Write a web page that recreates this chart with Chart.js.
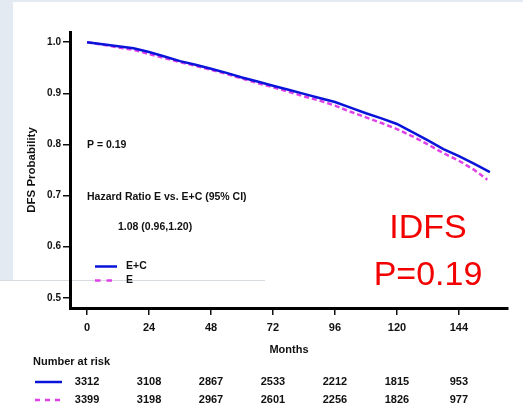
<!DOCTYPE html>
<html>
<head>
<meta charset="utf-8">
<script src="https://cdn.jsdelivr.net/npm/chart.js@4/dist/chart.umd.min.js"></script>
<style>
  body { margin: 0; background: #fff; }
  canvas { display: block; }
</style>
</head>
<body>
<canvas id="kmChart" width="523" height="418"></canvas>
<script>
// survival curves
const monthsEC = [0, 6, 12, 18, 24, 30, 36, 42, 48, 54, 60, 66, 72, 78, 84, 90, 96, 102, 108, 114, 120, 126, 132, 138, 144, 150, 156];
const survEC = [1.000, 0.996, 0.992, 0.988, 0.981, 0.972, 0.963, 0.956, 0.948, 0.940, 0.931, 0.923, 0.915, 0.907, 0.899, 0.891, 0.883, 0.872, 0.861, 0.851, 0.840, 0.824, 0.808, 0.791, 0.777, 0.762, 0.746];
const monthsE = [0, 6, 12, 18, 24, 30, 36, 42, 48, 54, 60, 66, 72, 78, 84, 90, 96, 102, 108, 114, 120, 126, 132, 138, 144, 150, 155];
const survE = [1.000, 0.995, 0.990, 0.985, 0.977, 0.969, 0.961, 0.954, 0.946, 0.938, 0.929, 0.920, 0.912, 0.903, 0.894, 0.886, 0.876, 0.864, 0.853, 0.842, 0.830, 0.816, 0.800, 0.783, 0.768, 0.750, 0.731];

const xTicks = [0, 24, 48, 72, 96, 120, 144];
const yTicks = [0.5, 0.6, 0.7, 0.8, 0.9, 1.0];
const riskEC = [3312, 3108, 2867, 2533, 2212, 1815, 953];
const riskE = [3399, 3198, 2967, 2601, 2256, 1826, 977];

const BLUE = '#0a14d8';
const PINK = '#e040e8';
const FONT = '"Liberation Sans", Arial, sans-serif';

function toPoints(xs, ys) {
    return xs.map((x, i) => ({ x: x, y: ys[i] }));
}

const backdrop = {
    id: 'backdrop',
    beforeDraw(chart) {
        const ctx = chart.ctx;
        ctx.save();
        ctx.fillStyle = '#fff';
        ctx.fillRect(0, 0, chart.width, chart.height);
        ctx.fillStyle = '#e3eaf1';
        ctx.fillRect(0, 0, chart.width, 2);
        ctx.fillRect(0, 0, 13, 280);
        ctx.strokeStyle = '#d6dbe0';
        ctx.lineWidth = 1;
        ctx.beginPath();
        ctx.moveTo(0, 280.5);
        ctx.lineTo(265, 280.5);
        ctx.stroke();
        ctx.restore();
    }
};

function sampleLine(ctx, x1, x2, y, color, dash) {
    ctx.save();
    ctx.strokeStyle = color;
    ctx.lineWidth = 2.5;
    ctx.setLineDash(dash);
    ctx.beginPath();
    ctx.moveTo(x1, y);
    ctx.lineTo(x2, y);
    ctx.stroke();
    ctx.restore();
}

const notes = {
    id: 'notes',
    afterDraw(chart) {
        const ctx = chart.ctx;
        const xs = chart.scales.x;
        ctx.save();
        ctx.fillStyle = '#111';
        ctx.textBaseline = 'middle';
        ctx.textAlign = 'left';
        ctx.font = 'bold 10.5px ' + FONT;
        ctx.fillText('P = 0.19', 87, 145);
        ctx.fillText('Hazard Ratio E vs. E+C (95% CI)', 87, 197);
        ctx.fillText('1.08 (0.96,1.20)', 118, 227);

        // legend
        sampleLine(ctx, 95, 117, 266.5, BLUE, []);
        sampleLine(ctx, 95, 117, 280.5, PINK, [5.5, 6]);
        ctx.fillText('E+C', 126, 266.5);
        ctx.fillText('E', 126, 280.5);

        // number at risk
        ctx.font = 'bold 11px ' + FONT;
        ctx.fillText('Number at risk', 33, 362);
        sampleLine(ctx, 35, 62, 382, BLUE, []);
        sampleLine(ctx, 35, 62, 400, PINK, [5, 5]);
        ctx.textAlign = 'center';
        xTicks.forEach((t, i) => {
            const px = xs.getPixelForValue(t);
            ctx.fillText(String(riskEC[i]), px, 382);
            ctx.fillText(String(riskE[i]), px, 400);
        });

        // big red label
        ctx.fillStyle = '#f30000';
        ctx.font = '34px ' + FONT;
        ctx.textBaseline = 'alphabetic';
        ctx.fillText('IDFS', 428, 238);
        ctx.fillText('P=0.19', 428, 285);
        ctx.restore();
    }
};

const ctx = document.getElementById('kmChart').getContext('2d');

new Chart(ctx, {
    type: 'line',
    data: {
        datasets: [
            {
                label: 'E+C',
                data: toPoints(monthsEC, survEC),
                borderColor: BLUE,
                borderWidth: 2.5,
                pointRadius: 0,
                tension: 0,
                order: 1
            },
            {
                label: 'E',
                data: toPoints(monthsE, survE),
                borderColor: PINK,
                borderWidth: 2.5,
                borderDash: [5, 3],
                pointRadius: 0,
                tension: 0,
                order: 2
            }
        ]
    },
    options: {
        responsive: false,
        devicePixelRatio: 1,
        animation: false,
        layout: { padding: { top: 32, right: 15, left: 0, bottom: 0 } },
        plugins: {
            legend: { display: false },
            tooltip: { enabled: false }
        },
        scales: {
            x: {
                type: 'linear',
                min: -6.6,
                max: 163,
                afterBuildTicks: s => { s.ticks = xTicks.map(v => ({ value: v })); },
                afterFit: s => { s.height = 110; },
                ticks: {
                    autoSkip: false,
                    maxRotation: 0,
                    padding: 6,
                    color: '#111',
                    font: { family: FONT, size: 11, weight: 'bold' }
                },
                grid: {
                    drawOnChartArea: false,
                    drawTicks: true,
                    tickLength: 7,
                    color: '#111',
                    lineWidth: 1.5
                },
                border: { display: true, color: '#000', width: 3 },
                title: {
                    display: true,
                    text: 'Months',
                    color: '#111',
                    padding: { top: 0, bottom: 61 },
                    font: { family: FONT, size: 11, weight: 'bold' }
                }
            },
            y: {
                type: 'linear',
                min: 0.48,
                max: 1.02,
                afterBuildTicks: s => { s.ticks = yTicks.map(v => ({ value: v })); },
                afterFit: s => { s.width = 70; },
                ticks: {
                    padding: 2,
                    color: '#111',
                    callback: v => v.toFixed(1),
                    font: { family: FONT, size: 10, weight: 'bold' }
                },
                grid: {
                    drawOnChartArea: false,
                    drawTicks: true,
                    tickLength: 7,
                    color: '#111',
                    lineWidth: 1.5
                },
                border: { display: true, color: '#000', width: 3 },
                title: {
                    display: true,
                    text: 'DFS Probability',
                    color: '#111',
                    padding: { top: 25, bottom: 0 },
                    font: { family: FONT, size: 11.5, weight: 'bold' }
                }
            }
        }
    },
    plugins: [backdrop, notes]
});
</script>
</body>
</html>
